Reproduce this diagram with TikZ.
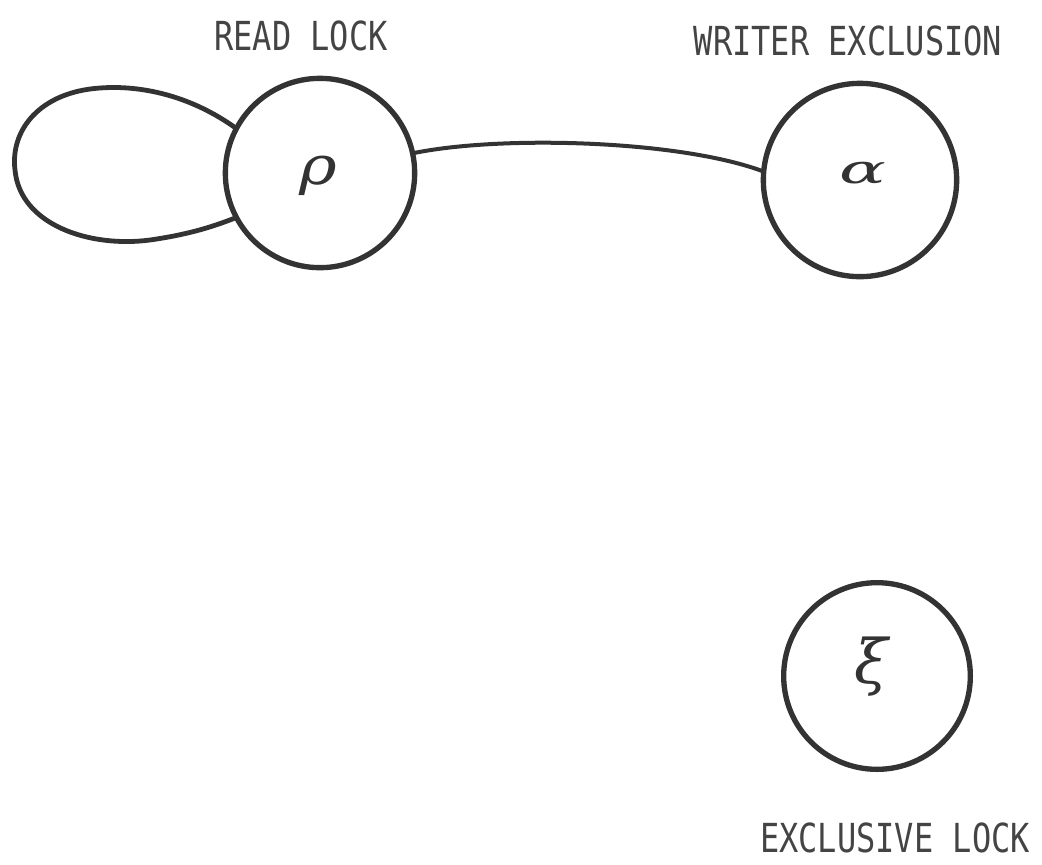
\documentclass[tikz,border=0pt]{standalone}
\usepackage{fontspec}
\newfontfamily\labfont[FakeStretch=0.8]{DejaVu Sans Mono}
\newfontfamily\grkfont{DejaVu Serif}
\definecolor{ink}{HTML}{333333}
\definecolor{txt}{HTML}{444444}
\tikzset{
  statenode/.style={circle, draw=ink, line width=4pt, minimum size=142pt, inner sep=0pt, outer sep=0pt},
  greek/.style={text=ink, inner sep=0pt},
  caption/.style={text=txt, font=\labfont\fontsize{30}{30}\selectfont, inner sep=0pt},
  link/.style={draw=ink, line width=3.6pt, line cap=round}
}
\begin{document}
\begin{tikzpicture}[x=0.75pt, y=-0.75pt]
\useasboundingbox (0,0) rectangle (1042,864);
\node[statenode] (rho) at (320,173) {};
\node[statenode, minimum size=145pt] (alpha) at (860,180) {};
\node[statenode, minimum size=140pt] (xi) at (877,676) {};
\node[greek] (rhol) at (318,176) {\scalebox{1.2}[1]{\grkfont\itshape\fontsize{40}{40}\selectfont ρ}};
\node[greek] (alphal) at (863,173) {\scalebox{1.3}[0.75]{\grkfont\itshape\fontsize{40}{40}\selectfont α}};
\node[greek] (xil) at (871,667) {\grkfont\itshape\fontsize{46}{46}\selectfont ξ};
\node[caption] (readlock) at (301,36) {READ LOCK};
\node[caption] (writerex) at (848,41) {WRITER EXCLUSION};
\node[caption] (exlock) at (895,838) {EXCLUSIVE LOCK};
\draw[link] (rho.152) .. controls (190,95) and (140,85) .. (100,88)
  .. controls (40,92) and (10,130) .. (15,170)
  .. controls (20,225) and (90,248) .. (150,240)
  .. controls (185,235) and (210,228) .. (rho.208);
\draw[link, line width=3pt] (rho.12) .. controls (500,135) and (680,140) .. (alpha.175);
\end{tikzpicture}
\end{document}
